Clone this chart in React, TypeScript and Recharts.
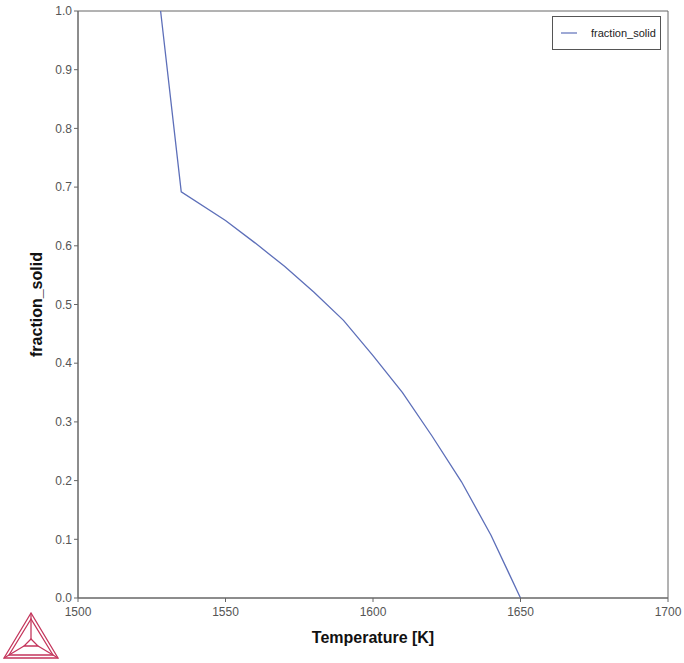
import { LineChart, Line, XAxis, YAxis, ReferenceArea, Legend, Label } from "recharts";

const temperature = [1528, 1535, 1550, 1560, 1570, 1580, 1590, 1600, 1610, 1620, 1630, 1640, 1650];
const fractionSolid = [1.0, 0.692, 0.643, 0.605, 0.565, 0.521, 0.473, 0.413, 0.35, 0.276, 0.198, 0.107, 0.0];
const xTicks = [1500, 1550, 1600, 1650, 1700];
const yTicks = [0, 0.1, 0.2, 0.3, 0.4, 0.5, 0.6, 0.7, 0.8, 0.9, 1.0];

const data = temperature.map((t, i) => ({ t, fs: fractionSolid[i] }));

const FONT = '"Liberation Sans", Arial, sans-serif';
const AXIS = "#666";
const LINE = "#5d6fb9";

function LegendBox() {
  return (
    <div
      style={{
        border: "1px solid #555",
        background: "#fff",
        width: 107,
        height: 32,
        display: "flex",
        alignItems: "center",
        fontFamily: FONT,
        fontSize: 11,
        color: "#222",
      }}
    >
      <svg width={38} height={10}>
        <line x1={8} y1={5} x2={24} y2={5} stroke={LINE} strokeWidth={1.2} />
      </svg>
      <span>fraction_solid</span>
    </div>
  );
}

function Logo() {
  const c = "#c4365c";
  return (
    <svg width={64} height={54} style={{ position: "absolute", left: 0, top: 608 }}>
      <g fill="none" stroke={c} strokeWidth={1.3}>
        <polygon points="31,5 4,50 58,50" />
        <polygon points="31,11 9,47 53,47" />
        <polygon points="31,31 24,38 38,38" />
        <line x1={31} y1={5} x2={31} y2={31} />
        <line x1={4} y1={50} x2={24} y2={38} />
        <line x1={58} y1={50} x2={38} y2={38} />
      </g>
    </svg>
  );
}

export default function App() {
  return (
    <div style={{ position: "absolute", left: 0, top: 0, width: 684, height: 663, background: "#fff" }}>
      <LineChart
        width={684}
        height={663}
        data={data}
        margin={{ top: 11, right: 16, left: 0, bottom: 0 }}
      >
        <XAxis
          dataKey="t"
          type="number"
          domain={[1500, 1700]}
          ticks={xTicks}
          height={65}
          stroke={AXIS}
          tickLine={{ stroke: AXIS }}
          tickSize={4}
          tick={{ fill: "#555", fontSize: 12, fontFamily: FONT, dy: 3 }}
        >
          <Label
            content={({ viewBox }: any) => (
              <text
                x={viewBox.x + viewBox.width / 2}
                y={viewBox.y + 45}
                textAnchor="middle"
                fontFamily={FONT}
                fontWeight="bold"
                fontSize={16}
                fill="#111"
              >
                Temperature [K]
              </text>
            )}
          />
        </XAxis>
        <YAxis
          type="number"
          domain={[0, 1]}
          ticks={yTicks}
          width={78}
          stroke={AXIS}
          tickLine={{ stroke: AXIS }}
          tickSize={4}
          tickFormatter={(v: number) => v.toFixed(1)}
          tick={{ fill: "#555", fontSize: 12, fontFamily: FONT }}
        >
          <Label
            content={({ viewBox }: any) => {
              const x = viewBox.x + 42;
              const y = viewBox.y + viewBox.height / 2;
              return (
                <text
                  x={x}
                  y={y}
                  transform={`rotate(-90, ${x}, ${y})`}
                  textAnchor="middle"
                  fontFamily={FONT}
                  fontWeight="bold"
                  fontSize={16}
                  fill="#111"
                >
                  fraction_solid
                </text>
              );
            }}
          />
        </YAxis>
        <ReferenceArea x1={1500} x2={1700} y1={0} y2={1} fill="none" stroke={AXIS} strokeWidth={1} ifOverflow="visible" />
        <Legend
          layout="horizontal"
          verticalAlign="middle"
          align="center"
          content={() => <LegendBox />}
          wrapperStyle={{ position: "absolute", left: 552, top: 16, width: 109 }}
        />
        <Line
          type="linear"
          dataKey="fs"
          name="fraction_solid"
          stroke={LINE}
          strokeWidth={1.3}
          dot={false}
          isAnimationActive={false}
        />
      </LineChart>
      <Logo />
    </div>
  );
}
